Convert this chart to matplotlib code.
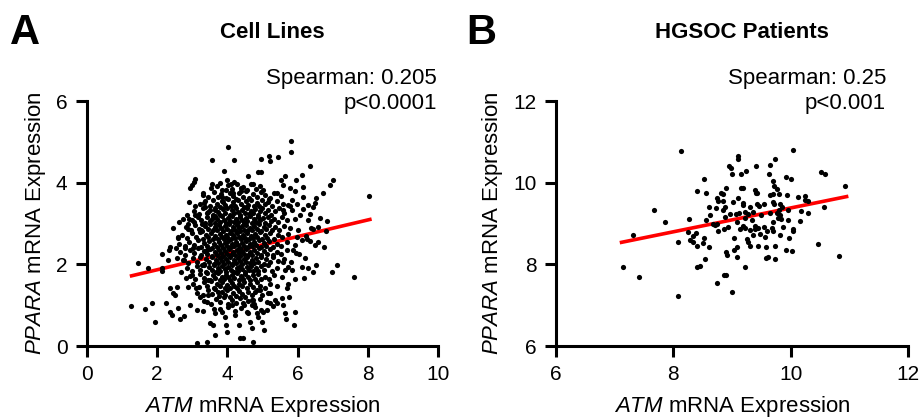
import numpy as np
import matplotlib
matplotlib.use("Agg")
import matplotlib.pyplot as plt

plt.rcParams['font.family'] = ['Liberation Sans', 'DejaVu Sans']
plt.rcParams['mathtext.fontset'] = 'custom'
plt.rcParams['mathtext.rm'] = 'Liberation Sans'
plt.rcParams['mathtext.it'] = 'Liberation Sans:italic'

# panel A - cell lines (ATM, PPARA), sparse points
cell_edge = [
    (4.01, 4.87), (3.57, 4.55), (4.18, 4.55), (3.90, 4.28), (4.60, 4.16), (3.08, 4.08), (3.04, 4.02),
    (2.98, 3.94), (2.93, 3.87), (3.57, 3.97), (3.78, 4.00), (3.98, 4.07), (4.09, 3.98), (4.19, 4.02),
    (4.45, 3.90), (3.30, 3.75), (3.96, 3.82), (4.17, 3.75), (2.91, 3.53), (3.08, 3.43), (3.34, 3.51),
    (3.36, 3.40), (3.44, 3.29), (3.86, 3.66), (3.88, 3.53), (3.65, 3.33), (2.84, 3.21), (3.08, 3.21),
    (2.74, 3.10), (2.98, 3.09), (2.63, 3.04), (2.89, 2.99), (2.46, 2.90), (2.87, 2.87), (2.58, 2.66),
    (3.27, 3.00), (3.25, 2.84), (3.55, 3.10), (3.65, 3.18),
    (5.80, 5.03), (5.81, 4.75), (5.19, 4.65), (5.44, 4.64), (5.22, 4.52), (4.95, 4.57), (6.35, 4.42),
    (4.86, 4.27), (4.96, 4.26), (5.65, 4.16), (6.14, 4.19), (5.53, 4.07), (7.02, 4.07), (5.95, 4.07),
    (6.92, 3.94), (4.72, 3.97), (6.16, 3.89), (5.78, 3.86), (5.59, 3.94), (5.93, 3.80), (6.73, 3.74),
    (8.03, 3.68), (6.52, 3.63), (6.16, 3.66), (6.50, 3.51), (6.31, 3.45), (6.45, 3.40), (6.16, 3.36),
    (6.35, 3.23), (6.64, 3.13), (6.85, 3.07), (6.31, 3.09), (6.45, 2.86), (6.59, 2.92), (6.80, 2.82),
    (6.37, 2.88), (6.24, 2.69), (5.40, 3.74), (5.21, 3.62), (5.02, 3.82), (5.83, 3.58), (5.97, 3.49),
    (5.74, 3.45), (6.07, 3.21), (5.59, 3.33),
    (2.60, 2.65), (1.46, 2.04), (1.25, 0.98), (1.65, 0.91), (1.86, 1.05), (1.94, 0.58), (1.75, 1.92),
    (2.13, 1.90), (2.15, 1.84), (2.35, 2.35), (2.32, 2.11), (2.53, 2.39), (2.56, 2.15), (2.79, 2.39),
    (3.03, 2.41), (2.77, 2.11), (2.36, 1.41), (2.56, 1.45), (2.46, 1.31), (2.51, 1.25), (2.24, 1.06),
    (2.60, 0.94), (2.36, 0.84), (2.41, 0.76), (2.65, 0.66), (2.77, 0.74), (2.93, 1.00), (3.12, 0.88),
    (3.30, 0.86), (3.50, 0.57), (3.60, 0.51), (3.65, 0.27), (3.13, 0.07), (3.41, 0.11), (2.68, 1.82),
    (2.82, 1.66), (2.98, 1.74), (2.89, 1.45), (3.10, 1.41), (3.22, 1.21), (3.46, 1.25), (3.41, 1.09),
    (3.65, 0.80), (3.79, 0.91), (3.93, 0.72), (3.96, 0.51), (3.98, 0.35), (4.36, 0.20), (4.45, 0.20),
    (4.22, 0.76), (4.33, 0.51), (4.12, 1.00), (4.45, 1.05), (4.69, 1.13), (4.55, 0.84), (4.64, 0.60),
    (3.41, 2.35), (3.27, 1.98), (3.46, 1.62), (3.74, 1.33),
    (7.62, 1.70), (7.13, 1.98), (6.97, 1.82), (6.75, 2.43), (6.59, 2.54), (6.50, 2.47), (6.52, 1.98),
    (6.43, 1.82), (6.31, 1.90), (6.13, 1.93), (6.21, 2.15), (6.05, 2.25), (5.88, 2.35), (6.18, 1.66),
    (5.83, 1.86), (5.93, 1.63), (5.69, 1.41), (5.76, 1.21), (5.59, 1.00), (5.40, 1.05), (5.31, 0.98),
    (5.12, 0.88), (5.02, 0.84), (4.83, 0.80), (4.88, 0.72), (5.93, 0.84), (5.64, 0.82), (5.67, 0.66),
    (5.91, 0.51), (4.98, 0.60), (5.04, 0.39), (4.69, 0.43), (4.74, 0.11), (5.21, 1.05), (4.74, 1.13),
    (4.69, 1.00), (4.79, 1.33), (4.93, 1.37), (5.17, 1.29), (5.36, 1.13), (5.55, 1.17), (5.74, 1.51),
    (5.74, 1.94), (5.59, 2.06),
    (2.15, 2.25), (2.36, 2.43), (6.28, 2.62), (6.35, 2.57), (6.12, 2.60),
]

# dense centre of the cloud, estimated band by band
cell_core = [
    (3.52, 3.86), (3.71, 3.93), (3.85, 3.81), (4.02, 3.95), (4.14, 3.84), (4.28, 3.98), (4.40, 3.88),
    (4.57, 3.82), (4.66, 3.96), (4.81, 3.85), (4.93, 3.91), (4.38, 3.80),
    (3.31, 3.71), (3.46, 3.64), (3.62, 3.77), (3.74, 3.66), (3.83, 3.73), (3.95, 3.62), (4.07, 3.75),
    (4.16, 3.68), (4.24, 3.61), (4.33, 3.76), (4.45, 3.66), (4.52, 3.79), (4.61, 3.63), (4.72, 3.72),
    (4.84, 3.65), (4.95, 3.78), (5.06, 3.69), (5.18, 3.61), (5.33, 3.74), (5.52, 3.67),
    (3.22, 3.47), (3.37, 3.56), (3.51, 3.43), (3.60, 3.58), (3.69, 3.49), (3.78, 3.41), (3.86, 3.55),
    (3.93, 3.46), (4.01, 3.59), (4.09, 3.44), (4.17, 3.52), (4.23, 3.42), (4.31, 3.57), (4.38, 3.48),
    (4.46, 3.41), (4.53, 3.55), (4.60, 3.46), (4.68, 3.58), (4.75, 3.43), (4.83, 3.51), (4.91, 3.44),
    (4.99, 3.57), (5.08, 3.47), (5.17, 3.53), (5.28, 3.42), (5.41, 3.56), (5.58, 3.48), (5.79, 3.44),
    (3.04, 3.31), (3.18, 3.24), (3.30, 3.37), (3.41, 3.26), (3.50, 3.33), (3.58, 3.21), (3.66, 3.38),
    (3.73, 3.29), (3.80, 3.22), (3.87, 3.35), (3.94, 3.27), (4.00, 3.39), (4.06, 3.21), (4.12, 3.32),
    (4.19, 3.25), (4.25, 3.37), (4.31, 3.28), (4.37, 3.21), (4.43, 3.34), (4.49, 3.26), (4.55, 3.38),
    (4.61, 3.23), (4.67, 3.31), (4.73, 3.25), (4.80, 3.36), (4.86, 3.22), (4.93, 3.30), (5.00, 3.39),
    (5.08, 3.27), (5.16, 3.34), (5.25, 3.22), (5.35, 3.31), (5.47, 3.38), (5.62, 3.26), (5.85, 3.33),
    (2.92, 3.12), (3.05, 3.04), (3.16, 3.17), (3.26, 3.08), (3.35, 3.01), (3.43, 3.15), (3.51, 3.06),
    (3.58, 3.19), (3.65, 3.02), (3.71, 3.11), (3.78, 3.05), (3.84, 3.18), (3.90, 3.09), (3.96, 3.01),
    (4.02, 3.14), (4.08, 3.07), (4.13, 3.19), (4.19, 3.03), (4.24, 3.12), (4.30, 3.05), (4.35, 3.17),
    (4.41, 3.09), (4.46, 3.02), (4.52, 3.14), (4.57, 3.06), (4.63, 3.18), (4.69, 3.01), (4.75, 3.11),
    (4.81, 3.04), (4.87, 3.16), (4.94, 3.08), (5.01, 3.13), (5.08, 3.02), (5.16, 3.17), (5.24, 3.07),
    (5.33, 3.12), (5.43, 3.04), (5.55, 3.15), (5.71, 3.08), (5.94, 3.11),
    (2.81, 2.91), (2.95, 2.84), (3.08, 2.96), (3.19, 2.87), (3.28, 2.81), (3.36, 2.94), (3.44, 2.86),
    (3.51, 2.99), (3.58, 2.83), (3.64, 2.92), (3.70, 2.85), (3.76, 2.97), (3.82, 2.88), (3.88, 2.81),
    (3.93, 2.93), (3.99, 2.86), (4.04, 2.98), (4.10, 2.82), (4.15, 2.91), (4.21, 2.84), (4.26, 2.96),
    (4.32, 2.88), (4.37, 2.81), (4.43, 2.93), (4.48, 2.85), (4.54, 2.97), (4.59, 2.83), (4.65, 2.90),
    (4.71, 2.84), (4.77, 2.95), (4.83, 2.87), (4.89, 2.99), (4.96, 2.82), (5.03, 2.92), (5.10, 2.86),
    (5.18, 2.97), (5.27, 2.83), (5.37, 2.91), (5.48, 2.85), (5.61, 2.95), (5.78, 2.88), (6.02, 2.84),
    (2.72, 2.71), (2.86, 2.64), (2.99, 2.76), (3.11, 2.67), (3.21, 2.79), (3.30, 2.62), (3.38, 2.73),
    (3.46, 2.66), (3.53, 2.78), (3.60, 2.61), (3.66, 2.70), (3.72, 2.63), (3.78, 2.75), (3.84, 2.68),
    (3.89, 2.61), (3.95, 2.73), (4.00, 2.66), (4.06, 2.78), (4.11, 2.62), (4.17, 2.71), (4.22, 2.64),
    (4.28, 2.76), (4.33, 2.68), (4.39, 2.61), (4.44, 2.73), (4.50, 2.65), (4.55, 2.77), (4.61, 2.63),
    (4.67, 2.70), (4.73, 2.64), (4.79, 2.75), (4.85, 2.67), (4.92, 2.79), (4.99, 2.62), (5.06, 2.72),
    (5.14, 2.65), (5.22, 2.77), (5.32, 2.63), (5.43, 2.71), (5.56, 2.66), (5.73, 2.74), (5.98, 2.68),
    (2.63, 2.51), (2.78, 2.44), (2.92, 2.56), (3.04, 2.47), (3.15, 2.59), (3.25, 2.42), (3.33, 2.53),
    (3.41, 2.46), (3.49, 2.58), (3.56, 2.41), (3.63, 2.50), (3.69, 2.43), (3.75, 2.55), (3.81, 2.48),
    (3.87, 2.41), (3.92, 2.53), (3.98, 2.46), (4.03, 2.58), (4.09, 2.42), (4.14, 2.51), (4.20, 2.44),
    (4.25, 2.56), (4.31, 2.48), (4.36, 2.41), (4.42, 2.53), (4.47, 2.45), (4.53, 2.57), (4.58, 2.43),
    (4.64, 2.50), (4.70, 2.44), (4.76, 2.55), (4.82, 2.47), (4.89, 2.59), (4.96, 2.42), (5.03, 2.52),
    (5.11, 2.45), (5.19, 2.57), (5.29, 2.43), (5.40, 2.51), (5.53, 2.46), (5.70, 2.54), (5.92, 2.48),
    (2.64, 2.31), (2.79, 2.24), (2.93, 2.36), (3.05, 2.27), (3.16, 2.39), (3.26, 2.22), (3.34, 2.33),
    (3.42, 2.26), (3.50, 2.38), (3.57, 2.21), (3.64, 2.30), (3.70, 2.23), (3.76, 2.35), (3.82, 2.28),
    (3.88, 2.21), (3.93, 2.33), (3.99, 2.26), (4.04, 2.38), (4.10, 2.22), (4.15, 2.31), (4.21, 2.24),
    (4.26, 2.36), (4.32, 2.28), (4.37, 2.21), (4.43, 2.33), (4.48, 2.25), (4.54, 2.37), (4.59, 2.23),
    (4.65, 2.30), (4.71, 2.24), (4.77, 2.35), (4.83, 2.27), (4.90, 2.39), (4.97, 2.22), (5.04, 2.32),
    (5.12, 2.25), (5.20, 2.37), (5.30, 2.23), (5.41, 2.31), (5.54, 2.26), (5.71, 2.34), (5.95, 2.28),
    (2.73, 2.11), (2.88, 2.04), (3.01, 2.16), (3.13, 2.07), (3.23, 2.19), (3.32, 2.02), (3.40, 2.13),
    (3.48, 2.06), (3.55, 2.18), (3.62, 2.01), (3.68, 2.10), (3.74, 2.03), (3.80, 2.15), (3.86, 2.08),
    (3.91, 2.01), (3.97, 2.13), (4.02, 2.06), (4.08, 2.18), (4.13, 2.02), (4.19, 2.11), (4.24, 2.04),
    (4.30, 2.16), (4.35, 2.08), (4.41, 2.01), (4.46, 2.13), (4.52, 2.05), (4.57, 2.17), (4.63, 2.03),
    (4.69, 2.10), (4.75, 2.04), (4.81, 2.15), (4.88, 2.07), (4.95, 2.19), (5.03, 2.02), (5.11, 2.12),
    (5.20, 2.05), (5.31, 2.17), (5.44, 2.08), (5.60, 2.13), (5.82, 2.06),
    (2.84, 1.91), (2.99, 1.84), (3.12, 1.96), (3.23, 1.87), (3.32, 1.99), (3.40, 1.82), (3.48, 1.93),
    (3.55, 1.86), (3.62, 1.98), (3.68, 1.81), (3.74, 1.90), (3.80, 1.83), (3.86, 1.95), (3.92, 1.88),
    (3.97, 1.81), (4.03, 1.93), (4.09, 1.86), (4.14, 1.98), (4.20, 1.82), (4.26, 1.91), (4.31, 1.84),
    (4.37, 1.96), (4.43, 1.88), (4.49, 1.81), (4.55, 1.93), (4.61, 1.85), (4.67, 1.97), (4.74, 1.83),
    (4.81, 1.90), (4.88, 1.84), (4.96, 1.95), (5.05, 1.87), (5.15, 1.99), (5.27, 1.83), (5.42, 1.92),
    (5.63, 1.86),
    (2.93, 1.71), (3.08, 1.64), (3.21, 1.76), (3.32, 1.67), (3.42, 1.79), (3.50, 1.62), (3.58, 1.73),
    (3.65, 1.66), (3.72, 1.78), (3.78, 1.61), (3.84, 1.70), (3.90, 1.63), (3.96, 1.75), (4.02, 1.68),
    (4.08, 1.61), (4.14, 1.73), (4.20, 1.66), (4.26, 1.78), (4.32, 1.62), (4.38, 1.71), (4.44, 1.64),
    (4.51, 1.76), (4.58, 1.68), (4.65, 1.61), (4.72, 1.73), (4.80, 1.65), (4.88, 1.77), (4.97, 1.63),
    (5.07, 1.70), (5.19, 1.64), (5.34, 1.75), (5.55, 1.68),
    (3.03, 1.51), (3.19, 1.44), (3.32, 1.56), (3.43, 1.47), (3.53, 1.59), (3.62, 1.42), (3.70, 1.53),
    (3.78, 1.46), (3.85, 1.58), (3.92, 1.41), (3.99, 1.50), (4.06, 1.43), (4.13, 1.55), (4.20, 1.48),
    (4.27, 1.41), (4.34, 1.53), (4.41, 1.46), (4.48, 1.58), (4.56, 1.42), (4.64, 1.51), (4.73, 1.44),
    (4.83, 1.56), (4.94, 1.48), (5.07, 1.41), (5.22, 1.53), (5.42, 1.46),
    (3.14, 1.31), (3.30, 1.24), (3.44, 1.36), (3.56, 1.27), (3.66, 1.39), (3.75, 1.22), (3.84, 1.33),
    (3.92, 1.26), (4.00, 1.38), (4.08, 1.21), (4.16, 1.30), (4.24, 1.23), (4.32, 1.35), (4.41, 1.28),
    (4.50, 1.21), (4.60, 1.33), (4.71, 1.26), (4.84, 1.38), (5.00, 1.24), (5.22, 1.31),
    (3.34, 1.11), (3.52, 1.04), (3.67, 1.16), (3.80, 1.07), (3.91, 1.19), (4.02, 1.02), (4.13, 1.13),
    (4.24, 1.06), (4.35, 1.18), (4.47, 1.01), (4.60, 1.10), (4.75, 1.03), (4.93, 1.15), (5.14, 1.08),
    (3.62, 0.91), (3.84, 0.84), (4.03, 0.96), (4.21, 0.87), (4.39, 0.93), (4.58, 0.82), (4.78, 0.95),
    (4.97, 0.88),
]

# panel B - HGSOC patients
patient_pts = [
    (8.14, 10.78), (7.67, 9.33), (7.86, 9.05), (7.31, 8.73), (7.14, 7.93), (7.42, 7.69), (8.08, 7.22),
    (8.27, 9.11), (8.08, 8.54), (8.25, 8.79), (8.28, 8.59), (8.33, 8.69), (8.38, 8.76), (8.34, 8.54),
    (8.41, 8.45), (8.51, 8.52), (8.52, 8.65), (8.61, 8.42), (8.55, 9.09), (8.63, 9.21), (8.60, 9.40),
    (8.40, 9.80), (8.56, 9.74), (8.52, 10.09), (8.54, 8.12), (8.41, 7.93), (8.46, 7.97), (8.74, 7.54),
    (8.87, 7.75), (8.90, 7.73), (9.00, 7.32), (8.90, 8.31), (8.92, 8.23), (9.03, 8.35), (9.03, 8.65),
    (8.67, 8.99), (8.71, 8.96), (8.77, 8.82), (8.74, 8.99), (8.87, 8.87), (8.94, 8.91), (8.88, 9.15),
    (8.73, 9.37), (8.84, 9.33), (8.88, 9.41), (8.75, 9.62), (8.76, 9.56), (8.84, 9.56), (8.81, 9.75),
    (8.85, 9.72), (8.90, 9.88), (8.97, 9.23), (9.02, 9.53), (8.95, 10.42), (8.99, 10.35), (9.00, 10.22),
    (10.03, 10.80), (9.11, 10.66), (9.11, 10.58), (9.74, 10.57), (9.41, 10.41), (9.65, 10.44),
    (9.23, 10.29), (9.15, 10.22), (9.63, 10.21), (9.92, 10.15), (10.00, 10.10), (10.51, 10.26),
    (10.58, 10.22), (10.93, 9.93), (9.70, 10.03), (9.72, 9.93), (9.76, 9.85), (9.15, 9.86), (9.18, 9.86),
    (9.39, 9.82), (9.42, 9.75), (9.40, 9.74), (9.65, 9.70), (9.69, 9.72), (9.80, 9.72), (9.93, 9.69),
    (10.12, 9.66), (10.25, 9.68), (10.25, 9.58), (10.30, 9.55), (9.11, 9.62), (9.18, 9.51), (9.19, 9.45),
    (9.31, 9.41), (9.42, 9.49), (9.46, 9.44), (9.55, 9.49), (9.70, 9.53), (9.72, 9.49), (9.82, 9.47),
    (9.85, 9.41), (9.80, 9.33), (9.95, 9.33), (10.17, 9.31), (10.30, 9.26), (10.57, 9.41), (9.06, 9.23),
    (9.12, 9.26), (9.22, 9.28), (9.28, 9.23), (9.36, 9.29), (9.49, 9.21), (9.65, 9.25), (9.76, 9.26),
    (9.82, 9.21), (9.78, 9.13), (9.83, 9.10), (9.96, 9.09), (9.70, 9.05), (9.34, 9.09), (9.22, 9.14),
    (9.08, 9.05), (10.15, 9.07), (9.19, 8.95), (9.14, 8.86), (9.22, 8.88), (9.31, 8.84), (9.39, 8.94),
    (9.39, 8.86), (9.45, 8.88), (9.55, 8.91), (9.59, 8.82), (9.68, 8.88), (9.70, 8.82), (9.87, 8.91),
    (10.03, 8.87), (10.04, 8.82), (9.36, 8.72), (9.48, 8.74), (9.56, 8.68), (9.82, 8.72), (9.25, 8.61),
    (9.28, 8.55), (9.97, 8.65), (9.31, 8.45), (9.45, 8.45), (9.58, 8.42), (9.73, 8.46), (9.08, 8.42),
    (9.92, 8.35), (10.02, 8.33), (10.46, 8.49), (9.09, 8.19), (9.57, 8.15), (9.62, 8.17), (9.74, 8.13),
    (10.82, 8.21), (9.22, 7.94),
]

# regression lines, end points
fit_a_x = [1.27, 8.06]
fit_a_y = [1.72, 3.10]
fit_b_x = [7.12, 10.95]
fit_b_y = [8.54, 9.66]

cells = np.array(cell_edge + cell_core)
patients = np.array(patient_pts)

fig = plt.figure(figsize=(9.21, 4.18), dpi=100)
axA = fig.add_axes([0.0945, 0.1722, 0.381, 0.586])
axB = fig.add_axes([0.6034, 0.1722, 0.3828, 0.586])


def style(ax, xlim, ylim, xt, yt):
    ax.set_xlim(xlim)
    ax.set_ylim(ylim)
    ax.set_xticks(xt)
    ax.set_yticks(yt)
    for s in ['top', 'right']:
        ax.spines[s].set_visible(False)
    for s in ['left', 'bottom']:
        ax.spines[s].set_linewidth(2.2)
    ax.tick_params(width=2.2, length=8, labelsize=15, pad=6)
    ax.set_xlabel(r'$\it{ATM}$ mRNA Expression', fontsize=16, labelpad=7)
    ax.set_ylabel(r'$\it{PPARA}$ mRNA Expression', fontsize=16, labelpad=6)


axA.plot(fit_a_x, fit_a_y, color='#ff0000', lw=2.6, zorder=2)
axA.scatter(cells[:, 0], cells[:, 1], s=14, color='black', linewidths=0, zorder=3, clip_on=False)
style(axA, (0, 10), (0, 6), [0, 2, 4, 6, 8, 10], [0, 2, 4, 6])

axB.plot(fit_b_x, fit_b_y, color='#ff0000', lw=2.6, zorder=2)
axB.scatter(patients[:, 0], patients[:, 1], s=14, color='black', linewidths=0, zorder=3, clip_on=False)
style(axB, (6, 12), (6, 12), [6, 8, 10, 12], [6, 8, 10, 12])

H = 418.0
W = 921.0
fig.text(10 / W, 1 - 44.3 / H, 'A', fontsize=30, fontweight='bold', va='baseline')
fig.text(466 / W, 1 - 44.3 / H, 'B', fontsize=30, fontweight='bold', va='baseline')
fig.text(272 / W, 1 - 37.7 / H, 'Cell Lines', fontsize=16, fontweight='bold', ha='center', va='baseline')
fig.text(742 / W, 1 - 37.7 / H, 'HGSOC Patients', fontsize=16, fontweight='bold', ha='center', va='baseline')
fig.text(437 / W, 1 - 84 / H, 'Spearman: 0.205', fontsize=16, ha='right', va='baseline')
fig.text(437 / W, 1 - 108.5 / H, 'p<0.0001', fontsize=16, ha='right', va='baseline')
fig.text(886 / W, 1 - 84 / H, 'Spearman: 0.25', fontsize=16, ha='right', va='baseline')
fig.text(886 / W, 1 - 108.5 / H, 'p<0.001', fontsize=16, ha='right', va='baseline')

fig.savefig('out.png', dpi=100)
